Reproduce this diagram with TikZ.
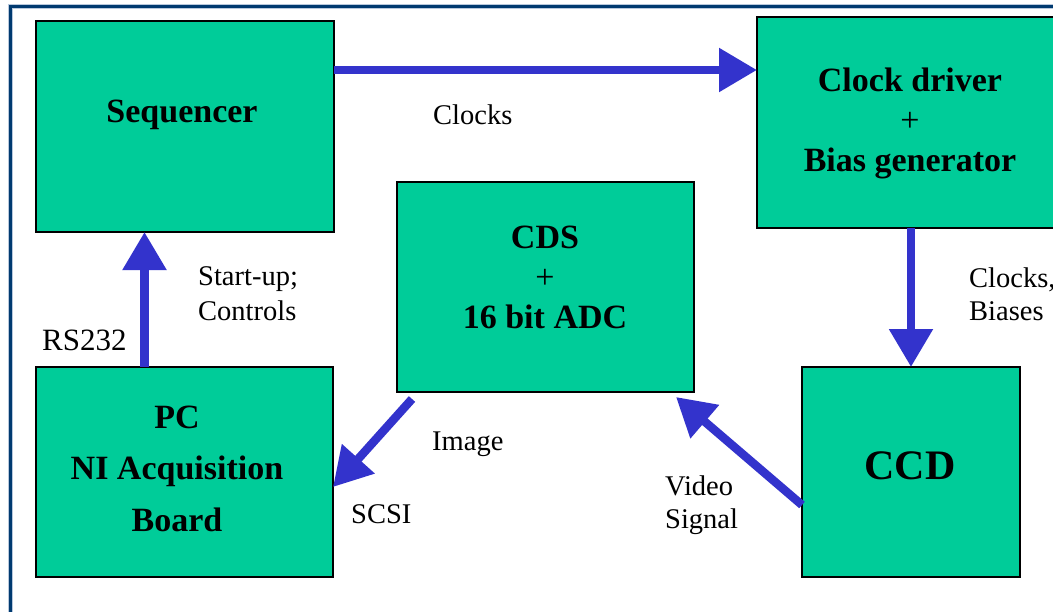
\documentclass[tikz,border=0pt]{standalone}
\usepackage{fontspec}
\setmainfont{Liberation Serif}
\usetikzlibrary{arrows.meta,calc}

\definecolor{boxgreen}{HTML}{00CC99}
\definecolor{arrowblue}{HTML}{3333CC}
\definecolor{framenavy}{HTML}{003A70}
\definecolor{framehalo}{HTML}{B8C8DC}

\tikzset{
  block/.style={draw=black, line width=1.6pt, fill=boxgreen, anchor=north west,
                inner sep=0pt, outer sep=0pt},
  btitle/.style={font=\fontsize{34}{40}\selectfont\bfseries, anchor=base, inner sep=0pt},
  bbig/.style={font=\fontsize{42}{50}\selectfont\bfseries, anchor=base, inner sep=0pt},
  lbl/.style={font=\fontsize{28.5}{34}\selectfont, anchor=base west, inner sep=0pt},
  fat/.style={draw=arrowblue, line width=8.5pt,
              -{Triangle[length=38pt,width=42pt,color=arrowblue]}, shorten <=0pt}
}

\begin{document}
\begin{tikzpicture}[x=1pt, y=-1pt]
  \useasboundingbox (0,0) rectangle (1053,611);
  \clip (0,0) rectangle (1053,611);
  \fill[white] (0,0) rectangle (1053,611);

  % page frame (left and top edges visible)
  \draw[framehalo, line width=5pt] (10.5,640) -- (10.5,6.5) -- (1080,6.5);
  \draw[framenavy, line width=3pt] (10.5,640) -- (10.5,6.5) -- (1080,6.5);

  % blocks
  \node[block, minimum width=298pt, minimum height=211pt] (seq) at (36,21) {};
  \node[block, minimum width=302pt, minimum height=211pt] (clk) at (757,17) {};
  \node[block, minimum width=297pt, minimum height=210pt] (cds) at (397,182) {};
  \node[block, minimum width=297pt, minimum height=210pt] (pc)  at (36,367) {};
  \node[block, minimum width=218pt, minimum height=210pt] (ccd) at (802,367) {};

  % block titles
  \node[btitle] (seqt) at (182,122) {Sequencer};
  \node[btitle] (clkt1) at (910,91) {Clock driver};
  \node[btitle, font=\fontsize{34}{40}\selectfont] (clkt2) at (910,131) {+};
  \node[btitle] (clkt3) at (910,171) {Bias generator};
  \node[btitle] (cdst1) at (545,248) {CDS};
  \node[btitle, font=\fontsize{34}{40}\selectfont] (cdst2) at (545,288) {+};
  \node[btitle] (cdst3) at (545,328) {16 bit ADC};
  \node[btitle] (pct1) at (177,428) {PC};
  \node[btitle] (pct2) at (177,479) {NI Acquisition};
  \node[btitle] (pct3) at (177,531) {Board};
  \node[bbig] (ccdt) at (910,479) {CCD};

  % connectors
  \coordinate (a1) at ($(seq.north east)+(0,49)$);
  \draw[fat] (a1) -- (clk.west |- a1);

  \draw[fat] (ccd.north |- clk.south) -- (ccd.north);

  \coordinate (a3) at ($(pc.north west)+(108.5,0)$);
  \draw[fat] (a3) -- (a3 |- seq.south);

  \coordinate (a4s) at ($(cds.south west)+(15,7)$);
  \coordinate (a4e) at ($(pc.east)+(0,15)$);
  \draw[fat] (a4s) -- (a4e);

  \coordinate (a5s) at ($(ccd.west)+(0,33)$);
  \coordinate (a5e) at ($(cds.south east)+(-18,5)$);
  \draw[fat] (a5s) -- (a5e);

  % connector labels
  \node[lbl] (lclk) at (433,124) {Clocks};
  \node[lbl] (lst1) at (198,285) {Start-up;};
  \node[lbl] (lst2) at (198,320) {Controls};
  \node[lbl, font=\fontsize{31}{36}\selectfont] (lrs) at (42,350) {RS232};
  \node[lbl] (limg) at (432,450) {Image};
  \node[lbl] (lscsi) at (351,523) {SCSI};
  \node[lbl] (lvid1) at (665,495) {Video};
  \node[lbl] (lvid2) at (665,528) {Signal};
  \node[lbl] (lcb1) at (969,287) {Clocks,};
  \node[lbl] (lcb2) at (969,320) {Biases};
\end{tikzpicture}
\end{document}
